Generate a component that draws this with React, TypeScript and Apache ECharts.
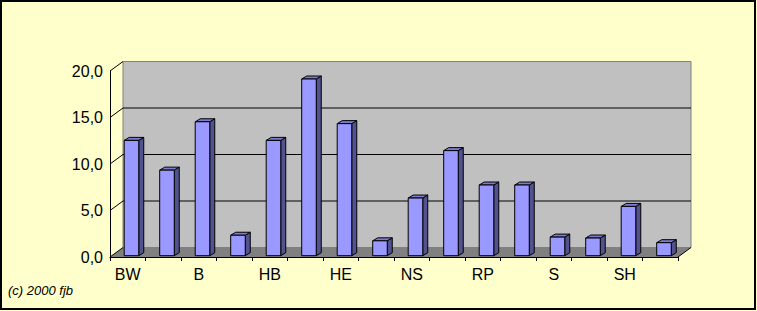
import React, { useEffect, useRef } from "react";
import * as echarts from "echarts";

const categories = ["BW", "BY", "B", "BB", "HB", "HH", "HE", "MV", "NS", "NW", "RP", "SL", "S", "ST", "SH", "TH"];
const values = [12.4, 9.2, 14.4, 2.2, 12.4, 19.0, 14.2, 1.6, 6.2, 11.3, 7.6, 7.6, 2.0, 1.9, 5.3, 1.4];
const yTicks = [0, 5, 10, 15, 20];
const credit = "(c) 2000 fjb";

const DX = 13;
const DY = -9.5;

export default function App() {
  const ref = useRef<HTMLDivElement>(null);
  useEffect(() => {
    if (!ref.current) return;
    const chart = echarts.init(ref.current, undefined, { renderer: "svg" });
    const font = "Liberation Sans";
    chart.setOption({
      animation: false,
      backgroundColor: "#FFFFCC",
      grid: { left: 110, top: 71, width: 568, height: 186 },
      xAxis: {
        type: "category",
        data: categories,
        z: 10,
        axisLine: { show: true, lineStyle: { color: "#000", width: 1 } },
        axisTick: { show: true, interval: 0, length: 4, lineStyle: { color: "#000" } },
        axisLabel: { interval: 1, color: "#000", fontSize: 16, fontFamily: font, margin: 9 },
        splitLine: { show: false },
      },
      yAxis: {
        type: "value",
        min: 0,
        max: 20,
        interval: 5,
        z: 10,
        axisLine: { show: true, lineStyle: { color: "#000", width: 1 } },
        axisTick: { show: false },
        splitLine: { show: false },
        axisLabel: {
          color: "#000",
          fontSize: 16,
          fontFamily: font,
          margin: 7,
          formatter: (v: number) => v.toFixed(1).replace(".", ","),
        },
      },
      graphic: [
        {
          type: "rect",
          shape: { x: 1, y: 1, width: 754, height: 308 },
          style: { fill: "none", stroke: "#000", lineWidth: 2 },
          z: 100,
        },
        {
          type: "text",
          left: 8,
          top: 284,
          style: { text: credit, font: `italic 13px "${font}"`, fill: "#000" },
        },
      ],
      series: [
        {
          type: "custom",
          z: 1,
          silent: true,
          data: [[0, 0]],
          renderItem: (params: any, api: any) => {
            const bw = api.size([1, 0])[0];
            const p0 = api.coord([0, 0]);
            const L = p0[0] - bw / 2;
            const B = p0[1];
            const R = api.coord([categories.length - 1, 0])[0] + bw / 2;
            const T = api.coord([0, yTicks[yTicks.length - 1]])[1];
            const children: any[] = [];
            children.push({
              type: "polygon",
              shape: { points: [[L + DX, T + DY], [R + DX, T + DY], [R + DX, B + DY], [L + DX, B + DY]] },
              style: { fill: "#C0C0C0", stroke: "#808080", lineWidth: 1 },
            });
            children.push({
              type: "polygon",
              shape: { points: [[L, B], [R, B], [R + DX, B + DY], [L + DX, B + DY]] },
              style: { fill: "#808080", stroke: "none" },
            });
            children.push({
              type: "line",
              shape: { x1: R, y1: B, x2: R + DX, y2: B + DY },
              style: { stroke: "#000", lineWidth: 1 },
            });
            yTicks.forEach((t) => {
              const y = api.coord([0, t])[1];
              if (t > 0 && t < yTicks[yTicks.length - 1]) {
                children.push({
                  type: "line",
                  shape: { x1: L + DX, y1: y + DY, x2: R + DX, y2: y + DY },
                  style: { stroke: "#000", lineWidth: 1 },
                });
              }
              children.push({
                type: "line",
                shape: { x1: L, y1: y, x2: L + DX, y2: y + DY },
                style: { stroke: "#000", lineWidth: 1 },
              });
            });
            return { type: "group", children };
          },
        },
        {
          type: "custom",
          z: 2,
          data: values.map((v, i) => [i, v]),
          renderItem: (params: any, api: any) => {
            const i = api.value(0);
            const v = api.value(1);
            const bw = api.size([1, 0])[0];
            const c = api.coord([i, v]);
            const b = api.coord([i, 0]);
            const w = bw * 0.41;
            const x0 = c[0] + bw * 0.105 - w / 2;
            const x1 = x0 + w;
            const top = c[1] - 1.3;
            const bot = b[1] - 1.3;
            const ddx = 5;
            const ddy = -3;
            return {
              type: "group",
              children: [
                {
                  type: "polygon",
                  shape: { points: [[x1, top], [x1 + ddx, top + ddy], [x1 + ddx, bot + ddy], [x1, bot]] },
                  style: { fill: "#52528f", stroke: "#000", lineWidth: 1 },
                },
                {
                  type: "polygon",
                  shape: { points: [[x0, top], [x0 + ddx, top + ddy], [x1 + ddx, top + ddy], [x1, top]] },
                  style: { fill: "#7b7bd0", stroke: "#000", lineWidth: 1 },
                },
                {
                  type: "rect",
                  shape: { x: x0, y: top, width: w, height: bot - top },
                  style: { fill: "#9999FF", stroke: "#000", lineWidth: 1 },
                },
              ],
            };
          },
        },
      ],
    });
    return () => chart.dispose();
  }, []);
  return (
    <div
      ref={ref}
      style={{ position: "fixed", left: 0, top: 0, width: 757, height: 311 }}
    />
  );
}
